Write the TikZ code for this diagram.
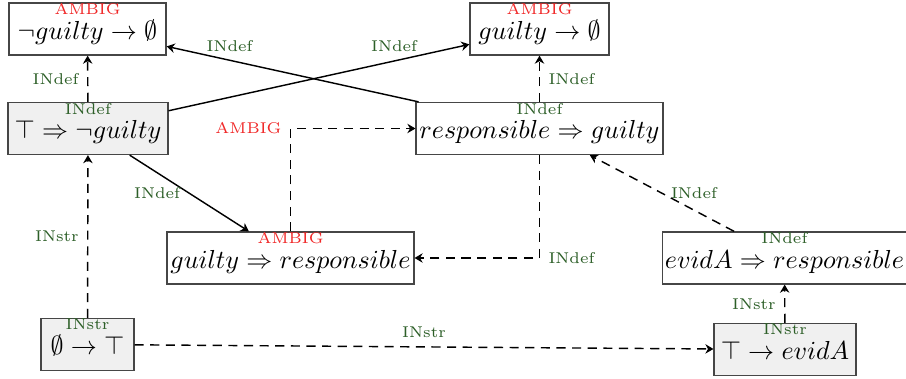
\documentclass[tikz,border=0pt]{standalone}
\usetikzlibrary{arrows.meta}
\definecolor{lblgreen}{RGB}{45,95,40}
\definecolor{lblred}{RGB}{240,40,40}
\definecolor{boxfill}{RGB}{240,240,240}
\definecolor{boxdraw}{RGB}{70,70,70}
\begin{document}
\begin{tikzpicture}[x=0.384pt,y=-0.384pt,
  box/.style={draw=boxdraw, rectangle, line width=0.45pt, inner xsep=1pt, inner ysep=0pt, text height=14pt, text depth=6pt, minimum height=20pt, font=\fontsize{9.6}{11}\selectfont},
  filled/.style={box, fill=boxfill},
  tag/.style={font=\fontsize{6}{7}\selectfont, text=lblgreen},
  amb/.style={font=\fontsize{6}{7}\selectfont, text=lblred},
  toplab/.style={label={[anchor=north, inner sep=0.3pt, tag]north:#1}},
  ambtop/.style={label={[anchor=north, inner sep=0.3pt, amb]north:AMBIG}},
  arr/.style={-{Stealth[length=3.1pt,width=3.6pt,inset=1pt]}, line width=0.55pt},
  darr/.style={arr, dash pattern=on 3.5pt off 2.5pt},
  elab/.style={tag, inner sep=3.2pt},
  elamb/.style={amb, inner sep=3.2pt},
]
\useasboundingbox (0,0) rectangle (906,379);

\node[box, ambtop, minimum width=60.3pt] (n1) at (87.5,29) {$\neg guilty \rightarrow \emptyset$};
\node[box, ambtop, minimum width=53.4pt] (n2) at (539.5,29) {$guilty \rightarrow \emptyset$};
\node[filled, toplab=INdef, minimum width=61.4pt] (n3) at (88,128.5) {$\top \Rightarrow \neg guilty$};
\node[box, toplab=INdef, minimum width=94.8pt] (n4) at (539.5,128.5) {$responsible \Rightarrow guilty$};
\node[box, ambtop, minimum width=94.8pt] (n5) at (290.5,258) {$guilty \Rightarrow responsible$};
\node[box, toplab=INdef, minimum width=92.5pt] (n6) at (784.5,258) {$evidA \Rightarrow responsible$};
\node[filled, toplab=INstr, minimum width=35.7pt] (n7) at (87.5,344.5) {$\emptyset \rightarrow \top$};
\node[filled, toplab=INstr, minimum width=54.5pt] (n8) at (785,349.5) {$\top \rightarrow evidA$};

\draw[darr] (n3) -- node[elab, left] {INdef} (n1);
\draw[arr] (n3) -- node[elab, above, pos=0.75] {INdef} (n2);
\draw[arr] (n4) -- node[elab, above, pos=0.75] {INdef} (n1);
\draw[darr] (n4) -- node[elab, right] {INdef} (n2);
\draw[arr] (n3) -- node[elab, left] {INdef} (n5);
\draw[darr] (n5) |- node[elamb, left, pos=0.5] {AMBIG} (n4);
\draw[darr] (n4) |- node[elab, right, pos=0.5] {INdef} (n5);
\draw[darr] (n6) -- node[elab, right] {INdef} (n4);
\draw[darr] (n7) -- node[elab, left] {INstr} (n3);
\draw[darr] (n7) -- node[elab, above] {INstr} (n8);
\draw[darr] (n8) -- node[elab, left] {INstr} (n6);
\end{tikzpicture}
\end{document}
